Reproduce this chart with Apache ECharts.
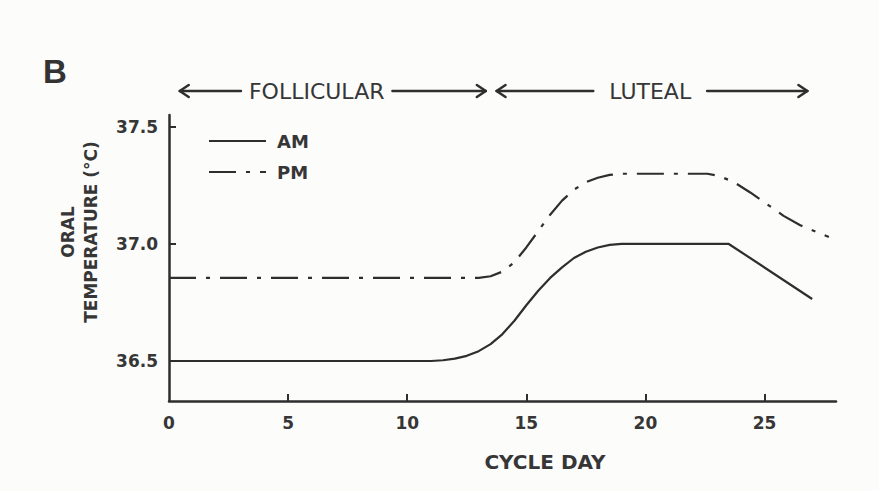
<!DOCTYPE html>
<html>
<head>
<meta charset="utf-8">
<script src="https://cdn.jsdelivr.net/npm/echarts@6/dist/echarts.min.js"></script>
<style>
html,body{margin:0;padding:0;background:#fcfcfb;}
#c{width:879px;height:491px;}
</style>
</head>
<body>
<div id="c"></div>
<script>
// ---- data ----
const amDays  = [0, 5, 10, 11, 11.5, 12, 12.5, 13, 13.5, 14, 14.5, 15, 15.5, 16, 16.5, 17, 17.5, 18, 18.5, 19, 20, 21, 22, 23, 23.5, 27];
const amTemps = [36.50, 36.50, 36.50, 36.50, 36.503, 36.51, 36.522, 36.542, 36.572, 36.615, 36.672, 36.738, 36.80, 36.855, 36.90, 36.94, 36.967, 36.985, 36.996, 37.00, 37.00, 37.00, 37.00, 37.00, 37.00, 36.765];
const pmDays  = [0, 5, 10, 13, 13.5, 14, 14.5, 15, 15.5, 16, 16.5, 17, 17.5, 18, 18.5, 19, 20, 21, 22, 22.6, 23.1, 23.7, 24.4, 25.1, 25.8, 26.5, 27.7];
const pmTemps = [36.855, 36.855, 36.855, 36.855, 36.862, 36.882, 36.922, 36.985, 37.055, 37.125, 37.185, 37.232, 37.264, 37.283, 37.295, 37.30, 37.30, 37.30, 37.30, 37.30, 37.29, 37.265, 37.22, 37.17, 37.12, 37.08, 37.03];
const xTickValues = [5, 10, 15, 20, 25];
const xLabelValues = [0, 5, 10, 15, 20, 25];
const yTickValues = [36.5, 37.0, 37.5];
const seriesNames = ['AM', 'PM'];
const phaseNames = ['FOLLICULAR', 'LUTEAL'];
const phaseFrom = [0.45, 13.75];
const phaseTo = [13.3, 26.8];
const phaseLabelAt = [6.2, 20.2];

const ink = '#2e2e2e';
const textInk = '#363636';
const boldFont = 'DejaVu Sans';

const chart = echarts.init(document.getElementById('c'), null, {renderer: 'svg'});

function pairs(xs, ys) { return xs.map((x, i) => [x, ys[i]]); }

chart.setOption({
  backgroundColor: '#fcfcfb',
  animation: false,
  grid: {left: 169, right: 43, top: 115, bottom: 90, containLabel: false},
  legend: {
    orient: 'vertical',
    left: 203, top: 127,
    itemWidth: 57, itemHeight: 14, itemGap: 13,
    itemStyle: {opacity: 0, color: 'transparent', borderWidth: 0},
    textStyle: {fontFamily: boldFont, fontWeight: 'bold', fontSize: 18, color: textInk, padding: [0, 0, 0, 6]},
    data: seriesNames
  },
  xAxis: {
    type: 'value', min: 0, max: 28,
    axisLine: {show: true, lineStyle: {color: ink, width: 2.5}},
    axisTick: {show: true, inside: true, length: 7, customValues: xTickValues, lineStyle: {color: ink, width: 2}},
    axisLabel: {customValues: xLabelValues, margin: 13, fontFamily: boldFont, fontWeight: 'bold', fontSize: 17, color: textInk},
    splitLine: {show: false}
  },
  yAxis: {
    type: 'value', min: 36.329, max: 37.551,
    axisLine: {show: true, lineStyle: {color: ink, width: 2.5}},
    axisTick: {show: true, inside: true, length: 7, customValues: yTickValues, lineStyle: {color: ink, width: 2}},
    axisLabel: {customValues: yTickValues, margin: 11, fontFamily: boldFont, fontWeight: 'bold', fontSize: 17, color: textInk,
      formatter: v => v.toFixed(1)},
    splitLine: {show: false}
  },
  series: [
    {
      name: seriesNames[0], type: 'line', data: pairs(amDays, amTemps),
      symbol: 'none', smooth: false,
      lineStyle: {color: ink, width: 2.2, join: 'round'},
      itemStyle: {color: ink}
    },
    {
      name: seriesNames[1], type: 'line', data: pairs(pmDays, pmTemps),
      symbol: 'none', smooth: false,
      lineStyle: {color: ink, width: 2.2, type: [27, 10, 4, 10], join: 'round'},
      itemStyle: {color: ink}
    }
  ]
});

// ---- annotations (header arrows, titles) ----
const headerY = 91;
const headerFontSize = 22;
const mctx = document.createElement('canvas').getContext('2d');
mctx.font = headerFontSize + 'px "DejaVu Sans"';
const gaps = [8, 16];
const g = [];
phaseNames.forEach((name, i) => {
  const x1 = chart.convertToPixel({gridIndex: 0}, [phaseFrom[i], 37])[0];
  const x2 = chart.convertToPixel({gridIndex: 0}, [phaseTo[i], 37])[0];
  const xc = chart.convertToPixel({gridIndex: 0}, [phaseLabelAt[i], 37])[0];
  const w = mctx.measureText(name).width;
  const la = xc - w / 2 - gaps[i];
  const lb = xc + w / 2 + gaps[i];
  const ls = {stroke: ink, lineWidth: 2.5, lineCap: 'round', lineJoin: 'round', fill: 'none'};
  g.push({type: 'line', shape: {x1: x1, y1: headerY, x2: la, y2: headerY}, style: ls});
  g.push({type: 'line', shape: {x1: lb, y1: headerY, x2: x2, y2: headerY}, style: ls});
  g.push({type: 'polyline', shape: {points: [[x1 + 9, headerY - 6], [x1, headerY], [x1 + 9, headerY + 6]]}, style: ls});
  g.push({type: 'polyline', shape: {points: [[x2 - 9, headerY - 6], [x2, headerY], [x2 - 9, headerY + 6]]}, style: ls});
  g.push({type: 'text', x: xc, y: headerY, style: {text: name, fontFamily: 'DejaVu Sans', fontSize: headerFontSize,
    fill: textInk, align: 'center', verticalAlign: 'middle'}});
});
g.push({type: 'text', x: 43, y: 71, style: {text: 'B', fontFamily: 'Liberation Sans', fontWeight: 'bold', fontSize: 33,
  fill: '#333', align: 'left', verticalAlign: 'middle'}});
g.push({type: 'text', x: 79, y: 232, rotation: Math.PI / 2, style: {text: 'ORAL\nTEMPERATURE (°C)', fontFamily: boldFont,
  fontWeight: 'bold', fontSize: 17, lineHeight: 23, fill: textInk, align: 'center', verticalAlign: 'middle'}});
g.push({type: 'text', x: 545, y: 462, style: {text: 'CYCLE DAY', fontFamily: boldFont, fontWeight: 'bold', fontSize: 20,
  fill: textInk, align: 'center', verticalAlign: 'middle'}});
chart.setOption({graphic: g});
</script>
</body>
</html>
